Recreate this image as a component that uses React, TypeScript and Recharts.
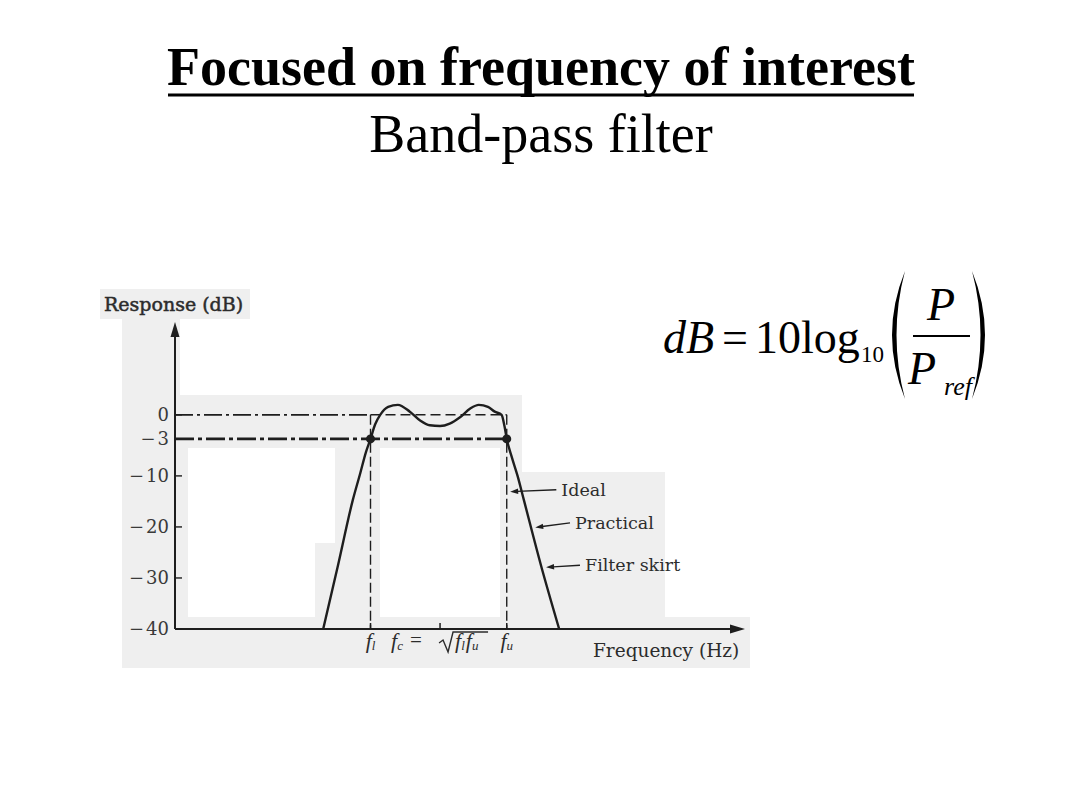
import React from 'react';
import { ComposedChart, Line, XAxis, YAxis, ReferenceLine, ReferenceDot } from 'recharts';

// ---------- texts ----------
const TITLE = 'Focused on frequency of interest';
const SUBTITLE = 'Band-pass filter';
const Y_LABEL = 'Response (dB)';
const X_LABEL = 'Frequency (Hz)';

// ---------- y axis (dB) ----------
const yTicks = [0, -3, -10, -20, -30, -40];
const yTickLabels = ['0', '−3', '−10', '−20', '−30', '−40'];
const Y_MIN = -40;
const Y_MAX = 11.6;

// ---------- x axis (frequency, arbitrary units) ----------
const X_MIN = 0;
const X_MAX = 100;
const F_L = 34.3;
const F_C = 46.5;
const F_U = 58.2;
const xTicks = [F_L, F_C, F_U];

// ---------- practical response ----------
const practicalFreq = [26.0, 28.6, 31.2, 32.5, 33.5, 34.3, 35.1, 36.0, 37.4, 39.1, 41.2, 43.0, 44.7, 46.5, 48.2, 50.0, 51.8, 53.3, 54.9, 56.1, 57.3, 57.8, 58.2, 59.1, 60.1, 61.2, 64.2, 67.4];
const practicalDb = [-40, -27.5, -14.7, -9.5, -5.5, -3, -1.2, 0, 1.0, 1.25, 0.4, -0.7, -1.3, -1.4, -1.1, -0.3, 0.8, 1.25, 1.0, 0.4, 0, -1.4, -3, -6.5, -10, -14.7, -27.5, -40];

// ---------- ideal response ----------
const idealEdgesFreq = [F_L, F_U];
const PASS_DB = 0;
const HALF_POWER_DB = -3;

// ---------- annotations ----------
const annotationLabels = ['Ideal', 'Practical', 'Filter skirt'];
const annotationTipFreq = [58.8, 63.2, 65.1];
const annotationTipDb = [-13.1, -20.1, -27.9];
const annotationTailFreq = [66.9, 69.3, 71.05];
const annotationTailDb = [-12.7, -19.2, -27.5];

const practicalData = practicalFreq.map((f, i) => ({ f, db: practicalDb[i] }));

// ---------- styles ----------
const SERIF_T = "'Liberation Serif', 'Times New Roman', serif";
const SERIF_D = "'DejaVu Serif', serif";
const INK = '#1e1e1e';
const TEXT_INK = '#2c2c2c';
const PAPER = '#efefef';

// The printed axis is not evenly spaced: the 0 / -3 region is stretched.
const DB_BREAKS = [-40, -10, -3, 0];
const DB_SPACING = [0, 153, 190, 214];
const SLOPE_LOW = 5.1;
const SLOPE_HIGH = 8;

function warp(v: number): number {
  if (v <= DB_BREAKS[0]) return DB_SPACING[0] + (v - DB_BREAKS[0]) * SLOPE_LOW;
  for (let i = 1; i < DB_BREAKS.length; i++) {
    if (v <= DB_BREAKS[i]) {
      const t = (v - DB_BREAKS[i - 1]) / (DB_BREAKS[i] - DB_BREAKS[i - 1]);
      return DB_SPACING[i - 1] + t * (DB_SPACING[i] - DB_SPACING[i - 1]);
    }
  }
  return DB_SPACING[DB_SPACING.length - 1] + (v - DB_BREAKS[DB_BREAKS.length - 1]) * SLOPE_HIGH;
}
function unwarp(u: number): number {
  if (u <= DB_SPACING[0]) return DB_BREAKS[0] + (u - DB_SPACING[0]) / SLOPE_LOW;
  for (let i = 1; i < DB_SPACING.length; i++) {
    if (u <= DB_SPACING[i]) {
      const t = (u - DB_SPACING[i - 1]) / (DB_SPACING[i] - DB_SPACING[i - 1]);
      return DB_BREAKS[i - 1] + t * (DB_BREAKS[i] - DB_BREAKS[i - 1]);
    }
  }
  return DB_BREAKS[DB_BREAKS.length - 1] + (u - DB_SPACING[DB_SPACING.length - 1]) / SLOPE_HIGH;
}

function makeDbScale(dom: number[] = [0, 1], rng: number[] = [0, 1]): any {
  let d = dom.slice();
  let r = rng.slice();
  const s: any = (v: number) => {
    const a = warp(d[0]);
    const b = warp(d[d.length - 1]);
    return r[0] + ((warp(Number(v)) - a) / (b - a)) * (r[r.length - 1] - r[0]);
  };
  s.domain = (x?: any) => {
    if (x === undefined) return d.slice();
    d = Array.from(x).map(Number);
    return s;
  };
  s.range = (x?: any) => {
    if (x === undefined) return r.slice();
    r = Array.from(x).map(Number);
    return s;
  };
  s.copy = () => makeDbScale(d, r);
  s.ticks = () => yTicks.slice();
  s.invert = (px: number) => {
    const a = warp(d[0]);
    const b = warp(d[d.length - 1]);
    return unwarp(a + ((px - r[0]) / (r[r.length - 1] - r[0])) * (b - a));
  };
  s.clamp = () => s;
  s.nice = () => s;
  s.tickFormat = () => (v: any) => String(v);
  return s;
}
const dbScale = makeDbScale();

// ---------- renderers ----------
function arrowShape(head: number, width: number, sw: number) {
  return (p: any) => {
    const { x1, y1, x2, y2 } = p;
    const ang = Math.atan2(y2 - y1, x2 - x1);
    const bx = x2 - head * Math.cos(ang);
    const by = y2 - head * Math.sin(ang);
    const nx = (-Math.sin(ang) * width) / 2;
    const ny = (Math.cos(ang) * width) / 2;
    return (
      <g>
        <line x1={x1} y1={y1} x2={bx + Math.cos(ang)} y2={by + Math.sin(ang)} stroke={INK} strokeWidth={sw} />
        <polygon points={`${x2},${y2} ${bx + nx},${by + ny} ${bx - nx},${by - ny}`} fill={INK} />
      </g>
    );
  };
}

function YTick(props: any) {
  const { x, y, payload } = props;
  const i = yTicks.indexOf(payload.value);
  const label = i >= 0 ? yTickLabels[i] : String(payload.value);
  const neg = label.startsWith('−');
  return (
    <g>
      <line x1={x} x2={x + 7} y1={y} y2={y} stroke={INK} strokeWidth={1.4} />
      <text x={x - 6} y={y} dy="0.36em" textAnchor="end" fontFamily={SERIF_D} fontSize={18} fill="#3a3a3a">
        {neg ? (
          <>
            <tspan>−</tspan>
            <tspan dx={2}>{label.slice(1)}</tspan>
          </>
        ) : (
          label
        )}
      </text>
    </g>
  );
}

function XTick(props: any) {
  const { x, y, payload } = props;
  const i = xTicks.indexOf(payload.value);
  const base = y + 19;
  const fStyle: any = { fontFamily: SERIF_T, fontStyle: 'italic', fontSize: 22, fill: TEXT_INK };
  const tick = <line x1={x} x2={x} y1={y} y2={y - 6} stroke={INK} strokeWidth={1.5} />;
  if (i === 1) {
    return (
      <g>
        {tick}
        <text x={x - 49} y={base} {...fStyle}>
          f<tspan fontSize={13} dy={2}>c</tspan>
        </text>
        <text x={x - 30} y={base - 1} fontFamily={SERIF_T} fontSize={21} fill={TEXT_INK}>=</text>
        <path
          d={`M ${x - 1} ${base - 5} L ${x + 3} ${base - 8} L ${x + 8} ${base + 4} L ${x + 13} ${base - 16} L ${x + 48} ${base - 16}`}
          fill="none"
          stroke={TEXT_INK}
          strokeWidth={1.4}
        />
        <text x={x + 15} y={base} {...fStyle}>
          f<tspan fontSize={13} dy={2}>l</tspan>
          <tspan dy={-2} dx={1}>f</tspan>
          <tspan fontSize={13} dy={2}>u</tspan>
        </text>
      </g>
    );
  }
  const sub = i === 0 ? 'l' : 'u';
  return (
    <g>
      {tick}
      <text x={x} y={base} textAnchor="middle" {...fStyle}>
        f<tspan fontSize={13} dy={2}>{sub}</tspan>
      </text>
    </g>
  );
}

// scanned-page background patches (decoration only)
const paperPatches = [
  [100, 289, 150, 30],
  [122, 319, 58, 349],
  [180, 395, 342, 53],
  [180, 448, 8, 169],
  [335, 448, 45, 95],
  [315, 543, 65, 74],
  [500, 448, 22, 169],
  [522, 472, 143, 145],
  [122, 617, 628, 51],
];

export default function App() {
  return (
    <div style={{ position: 'absolute', left: 0, top: 0, width: 1080, height: 810, background: '#ffffff', overflow: 'hidden' }}>
      {paperPatches.map((p, i) => (
        <div key={i} style={{ position: 'absolute', left: p[0], top: p[1], width: p[2], height: p[3], background: PAPER }} />
      ))}

      <div style={{ position: 'absolute', left: 0, top: 0 }}>
        <ComposedChart
          width={1080}
          height={810}
          data={practicalData}
          margin={{ top: 322, right: 335, bottom: 180, left: 174 }}
        >
          <XAxis
            dataKey="f"
            type="number"
            domain={[X_MIN, X_MAX]}
            ticks={xTicks}
            interval={0}
            tick={XTick}
            tickLine={false}
            axisLine={false}
            tickSize={0}
            tickMargin={0}
            height={1}
            allowDataOverflow
          />
          <YAxis
            type="number"
            domain={[Y_MIN, Y_MAX]}
            scale={dbScale}
            ticks={yTicks}
            interval={0}
            tick={YTick}
            tickLine={false}
            axisLine={false}
            tickSize={0}
            tickMargin={0}
            width={1}
            allowDataOverflow
          />

          {/* ideal response: pass level and band edges */}
          <ReferenceLine
            segment={[{ x: X_MIN, y: PASS_DB }, { x: idealEdgesFreq[0], y: PASS_DB }]}
            stroke={INK}
            strokeWidth={1.7}
            strokeDasharray="18 4 3 4"
            ifOverflow="visible"
          />
          <ReferenceLine
            segment={[{ x: idealEdgesFreq[0], y: PASS_DB }, { x: idealEdgesFreq[1], y: PASS_DB }]}
            stroke={INK}
            strokeWidth={1.5}
            strokeDasharray="10 5"
            ifOverflow="visible"
          />
          <ReferenceLine
            segment={[{ x: X_MIN, y: HALF_POWER_DB }, { x: idealEdgesFreq[1], y: HALF_POWER_DB }]}
            stroke={INK}
            strokeWidth={2.6}
            strokeDasharray="19 4 4 4"
            ifOverflow="visible"
          />
          {idealEdgesFreq.map((f, i) => (
            <ReferenceLine
              key={`edge-${i}`}
              segment={[{ x: f, y: PASS_DB }, { x: f, y: Y_MIN }]}
              stroke={INK}
              strokeWidth={1.4}
              strokeDasharray="10 4"
              ifOverflow="visible"
            />
          ))}

          {/* axes with arrow heads */}
          <ReferenceLine
            segment={[{ x: X_MIN, y: Y_MIN }, { x: X_MIN, y: Y_MAX }]}
            shape={arrowShape(15, 9, 2)}
            ifOverflow="visible"
          />
          <ReferenceLine
            segment={[{ x: X_MIN, y: Y_MIN }, { x: X_MAX, y: Y_MIN }]}
            shape={arrowShape(15, 9, 2)}
            ifOverflow="visible"
          />

          <Line
            type="monotone"
            dataKey="db"
            stroke={INK}
            strokeWidth={2.4}
            dot={false}
            activeDot={false}
            isAnimationActive={false}
          />

          {idealEdgesFreq.map((f, i) => (
            <ReferenceDot key={`hp-${i}`} x={f} y={HALF_POWER_DB} r={4.5} fill={INK} stroke="none" ifOverflow="visible" />
          ))}

          {/* annotations */}
          {annotationLabels.map((lab, i) => (
            <ReferenceLine
              key={`ann-line-${i}`}
              segment={[
                { x: annotationTailFreq[i], y: annotationTailDb[i] },
                { x: annotationTipFreq[i], y: annotationTipDb[i] },
              ]}
              shape={arrowShape(8, 5.5, 1.4)}
              ifOverflow="visible"
            />
          ))}
          {annotationLabels.map((lab, i) => (
            <ReferenceDot
              key={`ann-text-${i}`}
              x={annotationTailFreq[i]}
              y={annotationTailDb[i]}
              r={0}
              fill="none"
              stroke="none"
              ifOverflow="visible"
              label={{
                value: lab,
                position: 'right',
                offset: 5,
                fill: TEXT_INK,
                fontSize: 17.5,
                fontFamily: SERIF_D,
              }}
            />
          ))}
        </ComposedChart>
      </div>

      <svg width={1080} height={810} style={{ position: 'absolute', left: 0, top: 0, pointerEvents: 'none' }}>
        {/* title */}
        <text x={541} y={85} textAnchor="middle" fontFamily={SERIF_T} fontWeight="bold" fontSize={54} fill="#000">
          {TITLE}
        </text>
        <line x1={168} x2={914} y1={95} y2={95} stroke="#000" strokeWidth={3} />
        <text x={541} y={152} textAnchor="middle" fontFamily={SERIF_T} fontSize={54} fill="#000">
          {SUBTITLE}
        </text>

        {/* axis titles */}
        <text x={104} y={311} fontFamily={SERIF_D} fontSize={19} fill={TEXT_INK} stroke={TEXT_INK} strokeWidth={0.5}>
          {Y_LABEL}
        </text>
        <text x={593} y={657} fontFamily={SERIF_D} fontSize={18.5} fill={TEXT_INK}>
          {X_LABEL}
        </text>

        {/* formula */}
        <g fontFamily={SERIF_T} fill="#000">
          <text x={663} y={353} fontSize={46} fontStyle="italic">dB</text>
          <text x={722} y={353} fontSize={46}>=</text>
          <text x={755} y={353} fontSize={46}>10log</text>
          <text x={861} y={362} fontSize={23}>10</text>
          <path d="M 905 271 Q 879 335 905 399 Q 888 335 905 271 Z" fill="#000" />
          <text x={941} y={320} fontSize={46} fontStyle="italic" textAnchor="middle">P</text>
          <line x1={913} x2={970} y1={336} y2={336} stroke="#000" strokeWidth={2} />
          <text x={908} y={384} fontSize={46} fontStyle="italic">P</text>
          <text x={944} y={395} fontSize={26} fontStyle="italic">ref</text>
          <path d="M 972 271 Q 998 335 972 399 Q 989 335 972 271 Z" fill="#000" />
        </g>
      </svg>
    </div>
  );
}
